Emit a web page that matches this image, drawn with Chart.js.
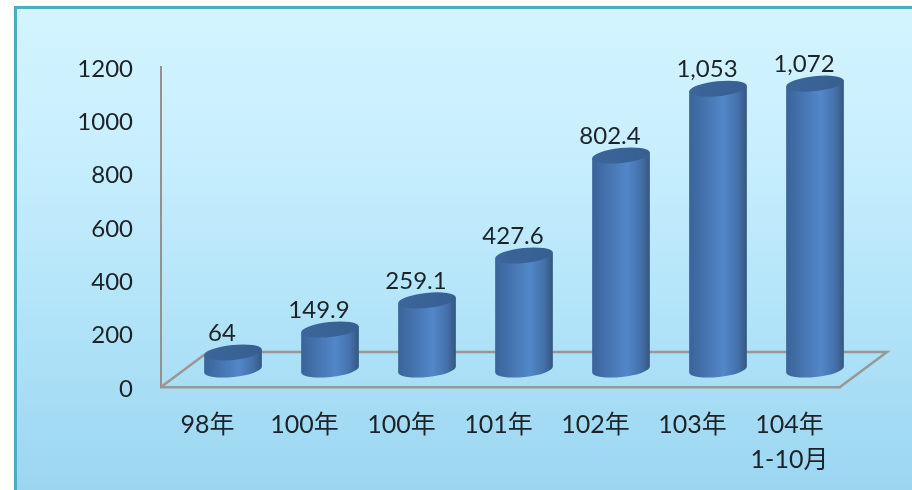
<!DOCTYPE html>
<html>
<head>
<meta charset="utf-8">
<script src="https://cdn.jsdelivr.net/npm/chart.js@4"></script>
<style>
html,body{margin:0;padding:0;background:#fff;width:912px;height:490px;overflow:hidden}
#panel{position:absolute;left:14px;top:6px;width:898px;height:484px;box-sizing:border-box;
border-left:3px solid #4bacc6;border-top:3px solid #4bacc6;
background:linear-gradient(to bottom,#d3f4ff 0%,#c8eefe 30%,#b4e5f9 60%,#9bd6f1 100%)}
#wrap{position:absolute;left:0;top:0;width:912px;height:490px}
</style>
</head>
<body>
<div id="panel"></div>
<div id="wrap"><canvas id="c" width="912" height="490"></canvas></div>
<script>
const categories = ["98年","100年","100年","101年","102年","103年",["104年","1-10月"]];
const values = [64,149.9,259.1,427.6,802.4,1053,1072];
const valueLabels = ["64","149.9","259.1","427.6","802.4","1,053","1,072"];
const yTicks = [0,200,400,600,800,1000,1200];

const FONT = 'Lato, "Noto Sans CJK TC", sans-serif';
const TEXT = '#1c2226';
const FLOOR = '#9a9794';
const depthX = 47, depthY = 35;
const cylW = 58, cylRy = 7.5, tilt = -6 * Math.PI / 180;

function nudgeLabels(scale,dx,dy){
  if(scale._nudged) return;
  scale._nudged = true;
  const orig = scale.drawLabels;
  scale.drawLabels = function(area){
    const c = this.ctx;
    c.save();
    c.translate(dx,dy);
    orig.call(this,area);
    c.restore();
  };
}

const floorPlugin = {
  id:'floor',
  beforeDatasetsDraw(chart){
    const {ctx,chartArea:a} = chart;
    ctx.save();
    ctx.strokeStyle = FLOOR; ctx.lineWidth = 2.5;
    ctx.beginPath();
    ctx.moveTo(a.left,a.bottom);
    ctx.lineTo(a.left+depthX,a.bottom-depthY);
    ctx.lineTo(a.right+depthX,a.bottom-depthY);
    ctx.lineTo(a.right,a.bottom);
    ctx.stroke();
    ctx.restore();
  }
};

const cylinderPlugin = {
  id:'cylinder',
  afterDatasetsDraw(chart){
    const {ctx} = chart;
    const meta = chart.getDatasetMeta(0);
    meta.data.forEach((bar,i)=>{
      const cx = bar.x + depthX/2;
      const topY = bar.y - depthY/2;
      const baseY = bar.base - depthY/2;
      const rx = cylW/2;
      const dx = rx*Math.cos(tilt), dy = rx*Math.sin(tilt);
      const g = ctx.createLinearGradient(cx-rx,0,cx+rx,0);
      g.addColorStop(0,'#3a6399');
      g.addColorStop(0.15,'#406ca5');
      g.addColorStop(0.6,'#5387c8');
      g.addColorStop(0.85,'#4470a9');
      g.addColorStop(1,'#33567f');
      ctx.save();
      ctx.beginPath();
      ctx.moveTo(cx-dx,topY-dy);
      ctx.lineTo(cx-dx,baseY-dy);
      ctx.ellipse(cx,baseY,rx,cylRy,tilt,Math.PI,0,true);
      ctx.lineTo(cx+dx,topY+dy);
      ctx.closePath();
      ctx.fillStyle = g;
      ctx.fill();
      ctx.beginPath();
      ctx.ellipse(cx,topY,rx,cylRy,tilt,0,Math.PI*2);
      const t = ctx.createLinearGradient(cx-rx,0,cx+rx,0);
      t.addColorStop(0,'#3b669c');
      t.addColorStop(1,'#375f90');
      ctx.fillStyle = t;
      ctx.fill();
      ctx.fillStyle = TEXT;
      ctx.font = '24px '+FONT;
      ctx.textAlign = 'center';
      ctx.textBaseline = 'middle';
      ctx.fillText(valueLabels[i],cx-11,topY-19);
      ctx.restore();
    });
  }
};

new Chart(document.getElementById('c'),{
  type:'bar',
  data:{labels:categories,datasets:[{data:values,backgroundColor:'rgba(0,0,0,0)',borderWidth:0,categoryPercentage:0.6,barPercentage:1}]},
  plugins:[floorPlugin,cylinderPlugin],
  options:{
    responsive:false,
    animation:false,
    events:[],
    layout:{padding:{left:0,top:67,right:72,bottom:0}},
    plugins:{legend:{display:false},tooltip:{enabled:false}},
    scales:{
      x:{
        afterFit(s){s.height=103;nudgeLabels(s,-2,0);},
        grid:{display:false},
        border:{color:FLOOR,width:2.5},
        ticks:{color:TEXT,font:{family:FONT,size:25,lineHeight:1.42},padding:12,autoSkip:false,maxRotation:0,minRotation:0}
      },
      y:{
        min:0,max:1200,
        afterFit(s){s.width=161;nudgeLabels(s,0,2);},
        afterBuildTicks(s){s.ticks=yTicks.map(v=>({value:v}));},
        grid:{display:false},
        border:{color:'#929292',width:2},
        ticks:{color:TEXT,font:{family:FONT,size:24},padding:20,callback:v=>String(v)}
      }
    }
  }
});
</script>
</body>
</html>
